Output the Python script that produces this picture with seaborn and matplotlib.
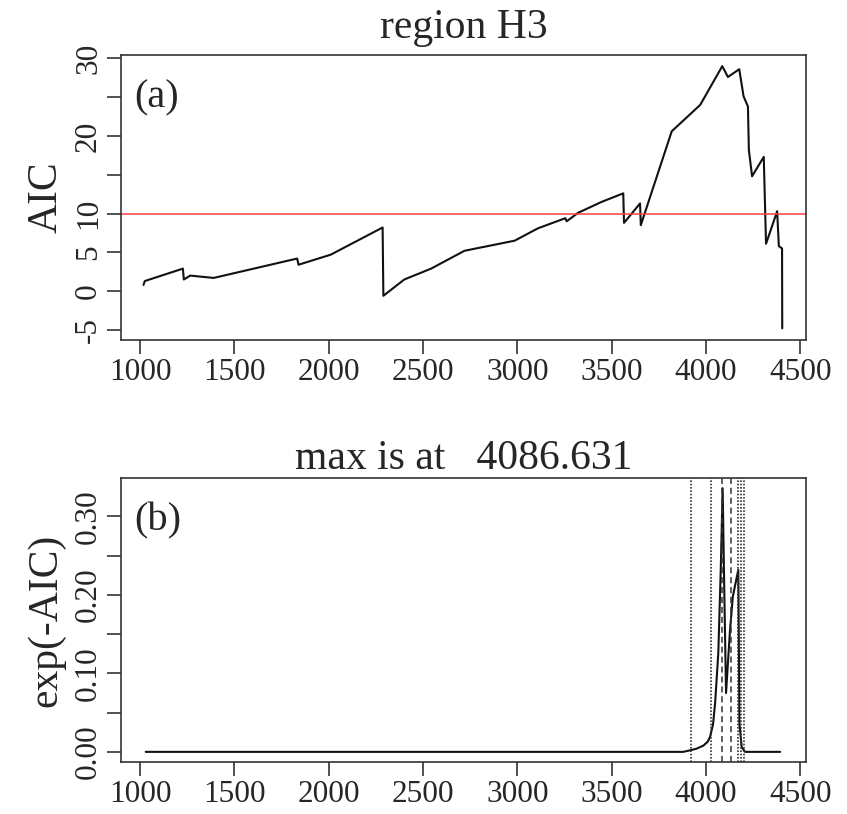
import numpy as np
import pandas as pd
import matplotlib
matplotlib.use("Agg")
import matplotlib.pyplot as plt
import seaborn as sns

# ---- data ----
aic_x = [1018, 1025, 1227, 1232, 1266, 1390, 1833, 1840, 2011, 2286, 2290,
         2401, 2543, 2720, 2986, 3110, 3255, 3262, 3323, 3447, 3562, 3566,
         3651, 3655, 3819, 3970, 4087, 4117, 4177, 4200, 4223, 4228, 4245,
         4307, 4319, 4378, 4387, 4404, 4405]
aic_y = [0.8, 1.3, 2.9, 1.5, 2.0, 1.7, 4.2, 3.4, 4.7, 8.2, -0.6,
         1.5, 2.9, 5.2, 6.5, 8.1, 9.4, 9.0, 10.1, 11.5, 12.6, 8.8,
         11.3, 8.5, 20.6, 24.0, 29.0, 27.6, 28.6, 25.1, 23.8, 18.2, 14.8,
         17.3, 6.1, 10.3, 5.8, 5.5, -4.8]
threshold = 9.9

w_x = [1030, 3880, 3917, 3950, 3987, 4010, 4022, 4038, 4049, 4066, 4079,
       4089, 4098, 4107, 4128, 4143, 4172, 4178, 4190, 4208, 4394]
w_y = [0.0, 0.0, 0.002, 0.004, 0.008, 0.013, 0.019, 0.035, 0.062, 0.126,
       0.232, 0.336, 0.20, 0.075, 0.155, 0.198, 0.232, 0.036, 0.006, 0.0, 0.0]

dotted_x = [3922, 4025, 4170, 4186, 4203]
dashed_x = [4087, 4132]

top_yticks = [-5, 0, 5, 10, 15, 20, 25, 30]
top_ylabels = ["-5", "0", "5", "10", "", "20", "", "30"]
bot_yticks = [0.0, 0.05, 0.10, 0.15, 0.20, 0.25, 0.30]
bot_ylabels = ["0.00", "", "0.10", "", "0.20", "", "0.30"]
xticks = [1000, 1500, 2000, 2500, 3000, 3500, 4000, 4500]

title_top = "region H3"
title_bot = "max is at   4086.631"
ylab_top = "AIC"
ylab_bot = "exp(-AIC)"

# ---- style ----
sns.set_style("ticks")
plt.rcParams["font.family"] = ["Liberation Serif", "DejaVu Serif"]
plt.rcParams["axes.linewidth"] = 1.2

fig = plt.figure(figsize=(8.47, 8.14), dpi=100)
ax1 = fig.add_axes([0.1429, 0.5823, 0.8087, 0.3501])
ax2 = fig.add_axes([0.1429, 0.0639, 0.8087, 0.3489])

df1 = pd.DataFrame({"x": aic_x, "y": aic_y})
df2 = pd.DataFrame({"x": w_x, "y": w_y})

sns.lineplot(data=df1, x="x", y="y", ax=ax1, sort=False, estimator=None,
             color="#111111", lw=1.5)
ax1.axhline(threshold, color="#ff4040", lw=1.1)

sns.lineplot(data=df2, x="x", y="y", ax=ax2, sort=False, estimator=None,
             color="#111111", lw=1.5)
for v in dotted_x:
    ax2.axvline(v, color="#333333", lw=1.2, ls=(0, (1, 1)))
for v in dashed_x:
    ax2.axvline(v, color="#333333", lw=1.1, ls=(0, (4, 2.5)))

for ax in (ax1, ax2):
    ax.set_xlim(899, 4531)
    ax.set_xticks(xticks)
    ax.set_xticklabels([str(t) for t in xticks])
    ax.set_xlabel("")
    ax.tick_params(axis="both", length=10, width=1.2, labelsize=22.5, pad=3,
                   color="#333333")
    for s in ax.spines.values():
        s.set_visible(True)
        s.set_color("#333333")

ax1.set_ylim(-6.3, 30.43)
ax1.set_yticks(top_yticks)
ax1.set_yticklabels(top_ylabels, rotation=90, va="center")
ax1.set_ylabel(ylab_top, fontsize=30, labelpad=6)
ax1.set_title(title_top, fontsize=30, pad=12)
ax1.text(0.02, 0.85, "(a)", transform=ax1.transAxes, fontsize=29,
         ha="left", va="center")

ax2.set_ylim(-0.0129, 0.349)
ax2.set_yticks(bot_yticks)
ax2.set_yticklabels(bot_ylabels, rotation=90, va="center")
ax2.set_ylabel(ylab_bot, fontsize=30, labelpad=6)
ax2.set_title(title_bot, fontsize=30, pad=5)
ax2.text(0.02, 0.85, "(b)", transform=ax2.transAxes, fontsize=29,
         ha="left", va="center")

fig.savefig("out.png", dpi=100)
